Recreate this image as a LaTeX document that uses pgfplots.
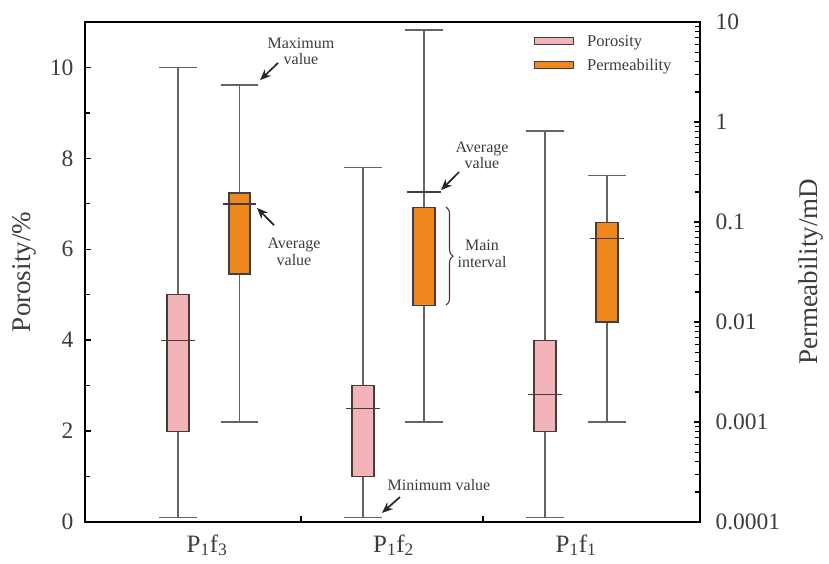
\documentclass[border=0pt]{standalone}
\usepackage{fontspec}
\setmainfont{Liberation Serif}
\usepackage{pgfplots}
\pgfplotsset{compat=1.18}
\usetikzlibrary{arrows.meta,decorations.pathreplacing}
\definecolor{pinkc}{RGB}{242,180,184}
\definecolor{orangec}{RGB}{238,136,30}
\definecolor{edgec}{RGB}{70,60,60}
\definecolor{whisc}{RGB}{100,100,100}
\definecolor{txtc}{RGB}{60,60,60}
\tikzset{
  ann/.style={font=\fontsize{16}{16.5}\selectfont, text=txtc, align=center},
  arr/.style={-{Stealth[length=11pt,width=9pt]}, line width=1.7pt, black!85},
}
\begin{document}
\begin{tikzpicture}
\pgfplotsset{
  common/.style={width=615pt,height=500pt,scale only axis,xmin=85,xmax=700,
    tick align=inside, axis line style={line width=1.8pt,black},
    major tick style={line width=1.5pt,black}, minor tick style={line width=1.2pt,black},
    major tick length=6pt, minor tick length=5pt,
    /pgf/number format/assume math mode=true,
    ticklabel style={font=\fontsize{23.5}{26}\selectfont, text=txtc},
  },
  wh/.style={draw=whisc,line width=1.3pt,forget plot},
  mn/.style={draw=edgec,line width=1.3pt,forget plot},
  pbox/.style={draw=edgec,fill=pinkc,line width=1.1pt,forget plot},
  obox/.style={draw=edgec,fill=orangec,line width=1.1pt,forget plot},
}
\begin{axis}[common, ymin=0, ymax=11,
  ytick={0,2,...,10}, minor ytick={1,3,...,9}, ytick pos=left,
  yticklabel style={xshift=-8pt},
  xtick pos=bottom, xtick={301,483}, xticklabels={},
  extra x ticks={207,393.5,576},
  extra x tick labels={P\textsubscript{1}f\textsubscript{3},P\textsubscript{1}f\textsubscript{2},P\textsubscript{1}f\textsubscript{1}},
  extra x tick style={major tick length=0pt, ticklabel style={font=\fontsize{25}{27}\selectfont, yshift=-9pt}},
  ylabel={Porosity/\%},
  ylabel style={font=\fontsize{27}{30}\selectfont, text=txtc, at={(axis description cs:-0.099,0.5)}, anchor=center, rotate=0},
]
\coordinate (bbsw) at (rel axis cs:0,0);
\coordinate (bbne) at (rel axis cs:1,1);
% P1f3 porosity
\addplot[wh] coordinates {(178,0.1) (178,10)};
\addplot[wh] coordinates {(159,0.1) (197,0.1)};
\addplot[wh] coordinates {(159,10) (197,10)};
\addplot[pbox] coordinates {(167,2) (189,2) (189,5) (167,5)} --cycle;
\addplot[mn] coordinates {(161,4) (195,4)};
% P1f2 porosity
\addplot[wh] coordinates {(363,0.1) (363,7.8)};
\addplot[wh] coordinates {(344,0.1) (382,0.1)};
\addplot[wh] coordinates {(344,7.8) (382,7.8)};
\addplot[pbox] coordinates {(352,1) (374,1) (374,3) (352,3)} --cycle;
\addplot[mn] coordinates {(346,2.5) (380,2.5)};
% P1f1 porosity
\addplot[wh] coordinates {(545,0.1) (545,8.6)};
\addplot[wh] coordinates {(526,0.1) (564,0.1)};
\addplot[wh] coordinates {(526,8.6) (564,8.6)};
\addplot[pbox] coordinates {(534,2) (556,2) (556,4) (534,4)} --cycle;
\addplot[mn] coordinates {(528,2.8) (562,2.8)};
% annotations
\node[ann] at (axis cs:301,10.36) {Maximum\\value};
\draw[arr] (axis cs:278,10.10) -- (axis cs:260,9.72);
\node[ann] at (axis cs:294,5.94) {Average\\value};
\draw[arr] (axis cs:274,6.53) -- (axis cs:257,6.91);
\node[ann] at (axis cs:482,8.07) {Average\\value};
\draw[arr] (axis cs:459,7.70) -- (axis cs:441,7.30);
\draw[decorate, decoration={brace, amplitude=7pt}, line width=1.1pt, txtc] (axis cs:446,6.93) -- (axis cs:446,4.77);
\node[ann] at (axis cs:482,5.90) {Main\\interval};
\node[ann] at (axis cs:439,0.81) {Minimum value};
\draw[arr] (axis cs:400,0.55) -- (axis cs:382,0.20);
\end{axis}
\begin{axis}[common, ymode=log, ymin=1e-4, ymax=10,
  axis y line*=right, hide x axis,
  ytick={1e-4,1e-3,1e-2,1e-1,1,10},
  yticklabels={0.0001,0.001,0.01,0.1,1,10},
  yticklabel style={xshift=12pt},
  minor ytick={2e-4,3e-4,4e-4,5e-4,6e-4,7e-4,8e-4,9e-4,
               2e-3,3e-3,4e-3,5e-3,6e-3,7e-3,8e-3,9e-3,
               2e-2,3e-2,4e-2,5e-2,6e-2,7e-2,8e-2,9e-2,
               0.2,0.3,0.4,0.5,0.6,0.7,0.8,0.9,
               2,3,4,5,6,7,8,9},
  ylabel={Permeability/mD},
  ylabel style={font=\fontsize{27}{30}\selectfont, text=txtc, at={(axis description cs:1.1805,0.5)}, anchor=center, rotate=0},
  legend image code/.code={\draw[#1] (0pt,-3.5pt) rectangle (39pt,3.5pt);},
  legend style={draw=none, fill=none, at={(0.73,0.978)}, anchor=north west,
    font=\fontsize{16.5}{18}\selectfont, text=txtc, row sep=7pt, column sep=11pt, inner sep=0pt},
  legend cell align=left,
]
% P1f3 permeability
\addplot[wh] coordinates {(239.5,0.001) (239.5,2.34)};
\addplot[wh] coordinates {(221,0.001) (258,0.001)};
\addplot[wh] coordinates {(221,2.34) (258,2.34)};
\addplot[obox] coordinates {(229,0.0302) (250,0.0302) (250,0.195) (229,0.195)} --cycle;
\addplot[mn] coordinates {(223,0.151) (256,0.151)};
% P1f2 permeability
\addplot[wh] coordinates {(424,0.001) (424,8.3)};
\addplot[wh] coordinates {(405,0.001) (443,0.001)};
\addplot[wh] coordinates {(405,8.3) (443,8.3)};
\addplot[obox] coordinates {(413,0.0145) (435,0.0145) (435,0.141) (413,0.141)} --cycle;
\addplot[mn] coordinates {(407,0.2) (441,0.2)};
% P1f1 permeability
\addplot[wh] coordinates {(607,0.001) (607,0.29)};
\addplot[wh] coordinates {(588,0.001) (626,0.001)};
\addplot[wh] coordinates {(588,0.29) (626,0.29)};
\addplot[obox] coordinates {(596,0.01) (618,0.01) (618,0.098) (596,0.098)} --cycle;
\addplot[mn] coordinates {(590,0.068) (624,0.068)};
\addlegendimage{fill=pinkc,draw=edgec,line width=1pt}
\addlegendentry{Porosity}
\addlegendimage{fill=orangec,draw=edgec,line width=1pt}
\addlegendentry{Permeability}
\end{axis}
\pgfresetboundingbox
\path[use as bounding box] ([shift={(-85pt,-41pt)}]bbsw) rectangle ([shift={(129pt,22pt)}]bbne);
\end{tikzpicture}
\end{document}
